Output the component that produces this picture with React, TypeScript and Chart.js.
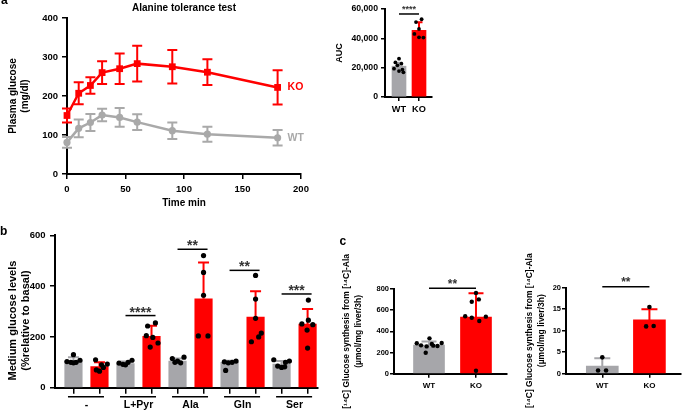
import React, { useEffect, useRef } from 'react';
import { Chart, registerables } from 'chart.js';

Chart.register(...registerables);

const FONT = '"Liberation Sans", Arial, Helvetica, sans-serif';
Chart.defaults.font.family = FONT;

const RED = '#ff0000';
const GRAY = '#a6a6aa';
const GRAY_LINE = '#a9a9a9';
const BLACK = '#000000';
const STAR = '#333333';

// ---------- Panel a: alanine tolerance test ----------
const timeMin = [0, 10, 20, 30, 45, 60, 90, 120, 180];
const koGlucose = [150, 207, 227, 260, 270, 283, 275, 261, 222];
const koGlucoseErr = [18, 28, 21, 29, 39, 46, 43, 33, 44];
const wtGlucose = [81, 117, 132, 151, 145, 133, 111, 102, 93];
const wtGlucoseErr = [14, 23, 22, 16, 24, 20, 21, 19, 20];
const seriesNames = ['WT', 'KO'];

// ---------- Panel a inset: AUC ----------
const genotypes = ['WT', 'KO'];
const aucMean = [21000, 45500];
const aucErr = [2300, 5500];
const aucWtDots = [26100, 23600, 22700, 21600, 19300, 18600, 17700, 16800];
const aucWtJitter = [0, -0.18, 0.12, -0.08, -0.25, 0.17, 0.0, 0.22];
const aucKoDots = [53000, 51100, 46400, 43000, 40700, 40500];
const aucKoJitter = [0.13, -0.15, 0.0, -0.23, 0.0, 0.22];
const aucSigLevel = 56600;
const aucSigText = '****';

// ---------- Panel b: medium glucose ----------
const substrates = ['-', 'L+Pyr', 'Ala', 'Gln', 'Ser'];
const mediumTitle = ['Medium glucose levels', '(%relative to basal)'];
const mediumWtMean = [105, 95, 105, 100, 93];
const mediumWtErr = [15, 8, 10, 6, 12];
const mediumKoMean = [83, 202, 350, 278, 250];
const mediumKoErr = [17, 42, 143, 102, 60];
const mediumWtDots = [
  [130, 108, 103, 100, 100, 98],
  [108, 100, 97, 92, 90],
  [120, 115, 105, 100, 98],
  [105, 102, 100, 98, 68],
  [110, 105, 100, 85, 80, 82],
];
const mediumWtJitter = [
  [0, 0.25, -0.25, -0.1, 0.1, 0.0],
  [0.25, 0.1, -0.25, -0.1, 0.0],
  [0.25, -0.2, 0.0, -0.1, 0.12],
  [0.25, -0.2, 0.1, -0.05, -0.15],
  [-0.3, 0.3, 0.15, -0.15, 0.0, 0.12],
];
const mediumKoDots = [
  [110, 93, 90, 70, 65, 80],
  [255, 243, 205, 198, 176, 160],
  [520, 454, 364, 204, 204],
  [442, 349, 273, 215, 200, 181],
  [345, 266, 251, 248, 227, 156],
];
const mediumKoJitter = [
  [-0.15, 0.3, 0.08, -0.12, 0.0, 0.15],
  [0.15, -0.15, -0.2, 0.05, 0.25, -0.05],
  [0, 0, 0, -0.2, 0.17],
  [0, 0, 0, 0.22, 0.12, -0.16],
  [0.03, 0.03, -0.22, 0.2, -0.02, 0.0],
];
const mediumSigGroup = [1, 2, 3, 4];
const mediumSigLevel = [284, 545, 462, 369];
const mediumSigText = ['****', '**', '**', '***'];

// ---------- Panel c: [14C]-Ala glucose synthesis ----------
const synthTitle = ['[¹⁴C] Glucose synthesis from [¹⁴C]-Ala', '(µmol/mg liver/3h)'];
const synthAMean = [271, 535];
const synthAErr = [34, 224];
const synthAWtDots = [334, 287, 268, 258, 265, 261, 290, 198, 280];
const synthAWtJitter = [0.01, -0.26, -0.17, -0.05, 0.09, 0.18, 0.27, -0.07, 0.06];
const synthAKoDots = [762, 680, 702, 542, 529, 539, 498, 28];
const synthAKoJitter = [0, -0.09, 0.06, -0.23, -0.09, 0.21, 0.07, 0];
const synthASigLevel = 806;

const synthBMean = [1.8, 12.5];
const synthBErr = [1.8, 2.5];
const synthBWtDots = [3.8, 0.75, 0.75];
const synthBWtJitter = [0, -0.09, 0.08];
const synthBKoDots = [15.5, 11.0, 11.1];
const synthBKoJitter = [0, -0.07, 0.09];
const synthBSigLevel = 20.2;
const sigTwoStars = '**';

// ---------- helpers ----------
function boldFont(size: number, lineHeight?: string) {
  const f: any = { family: FONT, size, weight: 'bold' };
  if (lineHeight) f.lineHeight = lineHeight;
  return f;
}

function linearAxis(p: any) {
  const ticks: any = {
    color: BLACK,
    font: boldFont(p.size),
    padding: p.pad,
    autoSkip: false,
    maxRotation: 0,
    minRotation: 0,
  };
  if (p.step != null) ticks.stepSize = p.step;
  if (p.labels) ticks.callback = p.labels;
  if (p.labelOffset) ticks.labelOffset = p.labelOffset;
  const ax: any = {
    type: 'linear',
    min: p.min,
    max: p.max,
    offset: false,
    border: { display: true, color: BLACK, width: 2 },
    grid: {
      display: true,
      drawOnChartArea: false,
      drawTicks: true,
      tickLength: p.tl,
      color: BLACK,
      lineWidth: 1.5,
      offset: false,
    },
    ticks,
    title: p.title
      ? { display: true, text: p.title, color: BLACK, font: boldFont(p.titleSize, p.titleLH), padding: p.titlePad }
      : { display: false },
    afterFit: (s: any) => {
      if (p.fitW != null) s.width = p.fitW;
      if (p.fitH != null) s.height = p.fitH;
    },
  };
  if (p.ticksAt) {
    ax.afterBuildTicks = (s: any) => {
      s.ticks = p.ticksAt.map((v: number) => ({ value: v }));
    };
  }
  return ax;
}

function errorBars(specs: any[]) {
  return {
    id: 'errorBars',
    afterDatasetDraw(chart: any, args: any) {
      const ctx = chart.ctx;
      const xs = chart.scales.x;
      const ys = chart.scales.y;
      specs
        .filter((s) => s.datasetIndex === args.index)
        .forEach((s) => {
          ctx.save();
          ctx.strokeStyle = s.color;
          ctx.lineWidth = s.width;
          s.xs.forEach((xv: number, i: number) => {
            const px = xs.getPixelForValue(xv);
            const top = ys.getPixelForValue(s.means[i] + s.errs[i]);
            const bottom = s.both
              ? ys.getPixelForValue(s.means[i] - s.errs[i])
              : ys.getPixelForValue(s.means[i]);
            ctx.beginPath();
            ctx.moveTo(px, bottom);
            ctx.lineTo(px, top);
            ctx.moveTo(px - s.cap, top);
            ctx.lineTo(px + s.cap, top);
            if (s.both) {
              ctx.moveTo(px - s.cap, bottom);
              ctx.lineTo(px + s.cap, bottom);
            }
            ctx.stroke();
          });
          ctx.restore();
        });
    },
  };
}

function sigBars(items: any[], st: any) {
  return {
    id: 'sigBars',
    afterDraw(chart: any) {
      const ctx = chart.ctx;
      const xs = chart.scales.x;
      const ys = chart.scales.y;
      ctx.save();
      items.forEach((it) => {
        const x1 = xs.getPixelForValue(it.from);
        const x2 = xs.getPixelForValue(it.to) + (st.extR || 0);
        const y = ys.getPixelForValue(it.level);
        ctx.strokeStyle = BLACK;
        ctx.lineWidth = st.lineW;
        ctx.beginPath();
        ctx.moveTo(x1, y);
        ctx.lineTo(x2, y);
        ctx.stroke();
        ctx.fillStyle = STAR;
        ctx.font = `bold ${st.size}px ${FONT}`;
        ctx.textAlign = 'center';
        ctx.textBaseline = 'alphabetic';
        ctx.fillText(it.text, (x1 + x2) / 2, y + st.base);
      });
      ctx.restore();
    },
  };
}

// rotated y-axis title, centred on the y axis (not squeezed to the axis height)
function rotatedTitle(lines: string[], st: any) {
  return {
    id: 'rotatedTitle',
    afterDraw(chart: any) {
      const ctx = chart.ctx;
      const ys = chart.scales.y;
      const cy = (ys.top + ys.bottom) / 2 + (st.shift || 0);
      ctx.save();
      ctx.font = `bold ${st.size}px ${FONT}`;
      ctx.fillStyle = BLACK;
      ctx.textAlign = 'center';
      ctx.textBaseline = 'middle';
      lines.forEach((ln, i) => {
        ctx.save();
        ctx.translate(st.x + i * st.gap, cy);
        ctx.rotate(-Math.PI / 2);
        ctx.fillText(ln, 0, 0);
        ctx.restore();
      });
      ctx.restore();
    },
  };
}

const dotData = (xBase: number, vals: number[], jit: number[]) =>
  vals.map((v, i) => ({ x: xBase + jit[i], y: v }));

const baseOptions = (padding: any) => ({
  responsive: false,
  animation: false as const,
  events: [] as any[],
  layout: { padding },
  plugins: { legend: { display: false }, tooltip: { enabled: false }, title: { display: false } },
});

// ---------- panel builders ----------
function makePanelA(canvas: HTMLCanvasElement) {
  const toXY = (ys: number[]) => timeMin.map((t, i) => ({ x: t, y: ys[i] }));
  const labels = {
    id: 'seriesLabels',
    afterDraw(chart: any) {
      const ctx = chart.ctx;
      const xs = chart.scales.x;
      const ys = chart.scales.y;
      const last = timeMin.length - 1;
      ctx.save();
      ctx.font = `bold 10.5px ${FONT}`;
      ctx.textAlign = 'left';
      ctx.textBaseline = 'middle';
      ctx.fillStyle = RED;
      ctx.fillText(seriesNames[1], xs.getPixelForValue(timeMin[last]) + 10, ys.getPixelForValue(koGlucose[last]));
      ctx.fillStyle = GRAY_LINE;
      ctx.fillText(seriesNames[0], xs.getPixelForValue(timeMin[last]) + 10, ys.getPixelForValue(wtGlucose[last]));
      ctx.restore();
    },
  };
  const opts: any = baseOptions({ left: 0, top: 0, right: 29, bottom: 0 });
  opts.plugins.title = {
    display: true,
    text: 'Alanine tolerance test',
    color: BLACK,
    font: boldFont(10, '12px'),
    padding: { top: 2, bottom: 4 },
    fullSize: false,
  };
  opts.scales = {
    x: linearAxis({
      min: 0, max: 200, step: 50, tl: 5, pad: 4.3, size: 9.5,
      title: 'Time min', titleSize: 10, titleLH: '12px', titlePad: { top: 0, bottom: 6 }, fitH: 41,
    }),
    y: linearAxis({
      min: 0, max: 400, step: 100, tl: 5, pad: 4, size: 9.5,
      title: ['Plasma glucose', '(mg/dl)'], titleSize: 10, titleLH: '12.5px', titlePad: { top: 6.75, bottom: 0 }, fitW: 67,
    }),
  };
  return new Chart(canvas, {
    type: 'line',
    data: {
      datasets: [
        {
          label: seriesNames[0], data: toXY(wtGlucose), borderColor: GRAY_LINE, backgroundColor: GRAY_LINE,
          pointBackgroundColor: GRAY_LINE, pointBorderWidth: 0, borderWidth: 2.5, pointRadius: 3.6,
          pointStyle: 'circle', tension: 0, clip: false,
        } as any,
        {
          label: seriesNames[1], data: toXY(koGlucose), borderColor: RED, backgroundColor: RED,
          pointBackgroundColor: RED, pointBorderWidth: 0, borderWidth: 2.5, pointRadius: 4.8,
          pointStyle: 'rect', tension: 0, clip: false,
        } as any,
      ],
    },
    options: opts,
    plugins: [
      errorBars([
        { datasetIndex: 0, xs: timeMin, means: wtGlucose, errs: wtGlucoseErr, color: GRAY_LINE, cap: 5, width: 2, both: true },
        { datasetIndex: 1, xs: timeMin, means: koGlucose, errs: koGlucoseErr, color: RED, cap: 5, width: 2, both: true },
      ]),
      labels,
    ],
  });
}

function makeBarDot(canvas: HTMLCanvasElement, c: any) {
  const opts: any = baseOptions({ left: 0, top: c.padTop, right: c.padRight, bottom: 0 });
  opts.scales = {
    x: linearAxis({
      min: c.xmin, max: c.xmax, tl: c.xtl, pad: c.xpad, size: c.xSize,
      ticksAt: genotypes.map((_, i) => i), labels: (_v: any, i: number) => genotypes[i], fitH: c.xHeight,
    }),
    y: linearAxis({
      min: c.ymin, max: c.ymax, step: c.ystep, tl: c.ytl, pad: c.ypad, size: c.ySize,
      labels: c.yfmt,
      title: c.axisTitle ? c.yTitle : undefined, titleSize: c.yTitleSize, titleLH: c.yTitleLH,
      titlePad: { top: c.yTitlePad, bottom: 0 }, fitW: c.yWidth,
    }),
  };
  const plugins: any[] = [
    errorBars([
      { datasetIndex: 2, xs: [0], means: [c.mean[0]], errs: [c.err[0]], color: GRAY, cap: c.cap, width: 2, both: false },
      { datasetIndex: 2, xs: [1], means: [c.mean[1]], errs: [c.err[1]], color: RED, cap: c.cap, width: 2, both: false },
    ]),
    sigBars([{ from: 0, to: 1, level: c.sigLevel, text: c.sigText }], c.sigStyle),
  ];
  if (!c.axisTitle) {
    plugins.push(rotatedTitle(c.yTitle, { x: c.titleX, gap: c.titleGap, size: c.yTitleSize }));
  }
  return new Chart(canvas, {
    type: 'bar',
    data: {
      datasets: [
        { type: 'scatter', data: dotData(0, c.wtDots, c.wtJit), pointRadius: c.dotR, pointBorderWidth: 0, backgroundColor: BLACK, order: 1, clip: false } as any,
        { type: 'scatter', data: dotData(1, c.koDots, c.koJit), pointRadius: c.dotR, pointBorderWidth: 0, backgroundColor: BLACK, order: 1, clip: false } as any,
        {
          type: 'bar', data: genotypes.map((_, i) => ({ x: i, y: c.mean[i] })),
          backgroundColor: [GRAY, RED], barThickness: c.barW, grouped: false, order: 2, borderWidth: 0,
        } as any,
      ],
    },
    options: opts,
    plugins,
  });
}

function makePanelB(canvas: HTMLCanvasElement) {
  const barIdx = substrates.flatMap((_, g) => [2 * g, 2 * g + 1]);
  const underline = {
    id: 'groupLines',
    afterDraw(chart: any) {
      const ctx = chart.ctx;
      const xs = chart.scales.x;
      const y = xs.top + 9;
      ctx.save();
      ctx.strokeStyle = BLACK;
      ctx.lineWidth = 1.5;
      substrates.forEach((_, g) => {
        ctx.beginPath();
        ctx.moveTo(xs.getPixelForValue(2 * g) - 5.5, y);
        ctx.lineTo(xs.getPixelForValue(2 * g + 1) + 4.5, y);
        ctx.stroke();
      });
      ctx.restore();
    },
  };
  const opts: any = baseOptions({ left: 0, top: 15.3, right: 12, bottom: 0 });
  opts.scales = {
    x: linearAxis({
      min: -0.71, max: 9.4, tl: 6, pad: 5, size: 10.5, ticksAt: barIdx,
      labels: (_v: any, i: number) => (i % 2 === 0 ? substrates[i / 2] : ''),
      labelOffset: 13, fitH: 24.3,
    }),
    y: linearAxis({
      min: 0, max: 600, step: 200, tl: 5, pad: 4.5, size: 9.5, fitW: 55,
    }),
  };
  const wtX = substrates.map((_, g) => 2 * g);
  const koX = substrates.map((_, g) => 2 * g + 1);
  return new Chart(canvas, {
    type: 'bar',
    data: {
      datasets: [
        { type: 'scatter', data: substrates.flatMap((_, g) => dotData(2 * g, mediumWtDots[g], mediumWtJitter[g])), pointRadius: 2.6, pointBorderWidth: 0, backgroundColor: BLACK, order: 1, clip: false } as any,
        { type: 'scatter', data: substrates.flatMap((_, g) => dotData(2 * g + 1, mediumKoDots[g], mediumKoJitter[g])), pointRadius: 2.6, pointBorderWidth: 0, backgroundColor: BLACK, order: 1, clip: false } as any,
        { type: 'bar', label: 'WT', data: wtX.map((x, g) => ({ x, y: mediumWtMean[g] })), backgroundColor: GRAY, barThickness: 17.5, grouped: false, order: 2 } as any,
        { type: 'bar', label: 'KO', data: koX.map((x, g) => ({ x, y: mediumKoMean[g] })), backgroundColor: RED, barThickness: 17.5, grouped: false, order: 2 } as any,
      ],
    },
    options: opts,
    plugins: [
      errorBars([
        { datasetIndex: 2, xs: wtX, means: mediumWtMean, errs: mediumWtErr, color: GRAY, cap: 5.5, width: 2, both: false },
        { datasetIndex: 3, xs: koX, means: mediumKoMean, errs: mediumKoErr, color: RED, cap: 5.5, width: 2, both: false },
      ]),
      sigBars(
        mediumSigGroup.map((g, i) => ({ from: 2 * g, to: 2 * g + 1, level: mediumSigLevel[i], text: mediumSigText[i] })),
        { size: 14, lineW: 1.5, base: 1, extR: 4 }
      ),
      underline,
      rotatedTitle(mediumTitle, { x: 12.5, gap: 13, size: 11, shift: 9 }),
    ],
  });
}

const letterStyle = (left: number, top: number): React.CSSProperties => ({
  position: 'absolute', left, top, fontFamily: FONT, fontWeight: 'bold', fontSize: 12, lineHeight: '12px', color: BLACK,
});

const canvasStyle = (left: number, top: number, width: number, height: number): React.CSSProperties => ({
  position: 'absolute', left, top, width, height,
});

export default function App() {
  const refA = useRef<HTMLCanvasElement>(null);
  const refAuc = useRef<HTMLCanvasElement>(null);
  const refB = useRef<HTMLCanvasElement>(null);
  const refC1 = useRef<HTMLCanvasElement>(null);
  const refC2 = useRef<HTMLCanvasElement>(null);

  useEffect(() => {
    const charts: Chart[] = [];
    charts.push(makePanelA(refA.current!));
    charts.push(
      makeBarDot(refAuc.current!, {
        padTop: 9, padRight: 13, xmin: -0.7, xmax: 1.65, xtl: 4, xpad: 2.5, xSize: 9.2, xHeight: 28,
        ymin: 0, ymax: 60000, ystep: 20000, ytl: 4, ypad: 3, ySize: 8.7,
        yfmt: (v: any) => Number(v).toLocaleString('en-US'),
        axisTitle: true, yTitle: 'AUC', yTitleSize: 9, yTitleLH: '11px', yTitlePad: 14.5, yWidth: 65,
        mean: aucMean, err: aucErr, wtDots: aucWtDots, wtJit: aucWtJitter, koDots: aucKoDots, koJit: aucKoJitter,
        dotR: 1.9, barW: 14, cap: 3.5, sigLevel: aucSigLevel, sigText: aucSigText,
        sigStyle: { size: 9, lineW: 1.5, base: -1.8 },
      })
    );
    charts.push(makePanelB(refB.current!));
    charts.push(
      makeBarDot(refC1.current!, {
        padTop: 64, padRight: 13, xmin: -0.745, xmax: 1.66, xtl: 4, xpad: 3, xSize: 8, xHeight: 38.3,
        ymin: 0, ymax: 800, ystep: 200, ytl: 4, ypad: 1, ySize: 7.5,
        axisTitle: false, yTitle: synthTitle, yTitleSize: 8.5, titleX: 11.5, titleGap: 12.3, yWidth: 59,
        mean: synthAMean, err: synthAErr, wtDots: synthAWtDots, wtJit: synthAWtJitter, koDots: synthAKoDots, koJit: synthAKoJitter,
        dotR: 2.2, barW: 31, cap: 7.5, sigLevel: synthASigLevel, sigText: sigTwoStars,
        sigStyle: { size: 12, lineW: 1.5, base: -0.4 },
      })
    );
    charts.push(
      makeBarDot(refC2.current!, {
        padTop: 62.7, padRight: 2, xmin: -0.77, xmax: 1.67, xtl: 4, xpad: 3, xSize: 8, xHeight: 38.3,
        ymin: 0, ymax: 20, ystep: 5, ytl: 4, ypad: 1, ySize: 7.5,
        axisTitle: false, yTitle: synthTitle, yTitleSize: 8.5, titleX: 15, titleGap: 11.7, yWidth: 51,
        mean: synthBMean, err: synthBErr, wtDots: synthBWtDots, wtJit: synthBWtJitter, koDots: synthBKoDots, koJit: synthBKoJitter,
        dotR: 2.3, barW: 32, cap: 8, sigLevel: synthBSigLevel, sigText: sigTwoStars,
        sigStyle: { size: 12, lineW: 1.5, base: -0.8 },
      })
    );
    return () => charts.forEach((ch) => ch.destroy());
  }, []);

  return (
    <div style={{ position: 'fixed', left: 0, top: 0, width: 685, height: 412, background: '#ffffff', overflow: 'hidden' }}>
      <canvas ref={refA} width={330} height={215} style={canvasStyle(0, 0, 330, 215)} />
      <canvas ref={refAuc} width={125} height={125} style={canvasStyle(320, 0, 125, 125)} />
      <canvas ref={refB} width={330} height={192} style={canvasStyle(0, 220, 330, 192)} />
      <canvas ref={refC1} width={185} height={187} style={canvasStyle(335, 225, 185, 187)} />
      <canvas ref={refC2} width={170} height={187} style={canvasStyle(515, 225, 170, 187)} />
      <div style={letterStyle(1, -6)}>a</div>
      <div style={letterStyle(0, 225)}>b</div>
      <div style={letterStyle(339.5, 235)}>c</div>
    </div>
  );
}
